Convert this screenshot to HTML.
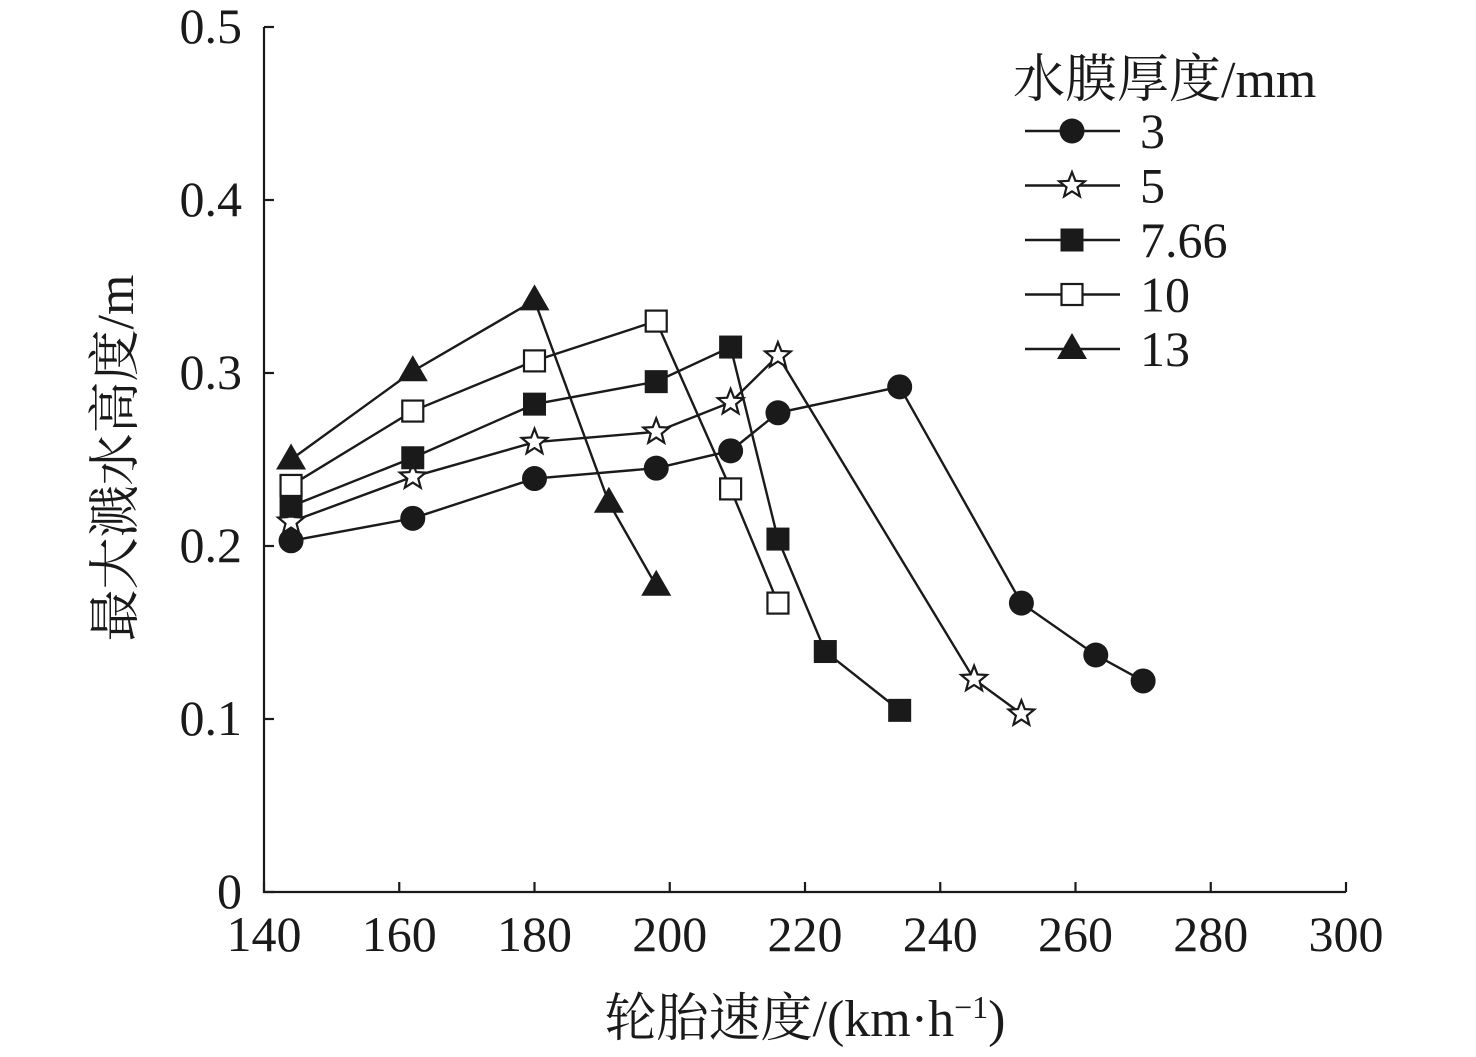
<!DOCTYPE html>
<html><head><meta charset="utf-8"><style>
html,body{margin:0;padding:0;background:#fff;}
svg text{font-family:"Liberation Serif","Noto Serif CJK SC",serif;fill:#1a1a1a;}
</style></head><body>
<svg id="c" width="1476" height="1052" xmlns="http://www.w3.org/2000/svg"></svg>
<script>
const xTicks=[140,160,180,200,220,240,260,280,300];
const yTicks=[0,0.1,0.2,0.3,0.4,0.5];
const yTickLabels=["0","0.1","0.2","0.3","0.4","0.5"];
const seriesNames=["3","5","7.66","10","13"];
const markers=["circle","star","square","opensquare","triangle"];
const x3=[144,162,180,198,209,216,234,252,263,270];
const y3=[0.203,0.216,0.239,0.245,0.255,0.277,0.292,0.167,0.137,0.122];
const x5=[144,162,180,198,209,216,245,252];
const y5=[0.214,0.240,0.260,0.266,0.283,0.310,0.123,0.103];
const x766=[144,162,180,198,209,216,223,234];
const y766=[0.223,0.251,0.282,0.295,0.315,0.204,0.139,0.105];
const x10=[144,162,180,198,209,216];
const y10=[0.235,0.278,0.307,0.330,0.233,0.167];
const x13=[144,162,180,191,198];
const y13=[0.250,0.301,0.342,0.225,0.177];

const svg=document.getElementById('c');
const NS="http://www.w3.org/2000/svg";
const X0=264,X1=1346,Y0=892,Y1=27;
const sx=v=>X0+(v-140)/160*(X1-X0);
const sy=v=>Y0-v/0.5*(Y0-Y1);
function el(t,a,p){const e=document.createElementNS(NS,t);for(const k in a)e.setAttribute(k,a[k]);(p||svg).appendChild(e);return e;}

let ax=el('path',{d:`M${X0},${Y1}V${Y0}H${X1}`,fill:'none',stroke:'#1a1a1a','stroke-width':2.2});


xTicks.forEach(v=>{
  const t=el('line',{x1:sx(v),x2:sx(v),y1:Y0,y2:Y0-10,stroke:'#1a1a1a','stroke-width':2.2});
  
  
  const l=el('text',{x:sx(v),y:951,'text-anchor':'middle','font-size':50});l.textContent=v;
  
  
});
yTicks.forEach((v,i)=>{
  const t=el('line',{x1:X0,x2:X0+10,y1:sy(v),y2:sy(v),stroke:'#1a1a1a','stroke-width':2.2});
  
  
  const l=el('text',{x:242,y:sy(v)+16,'text-anchor':'end','font-size':50});l.textContent=yTickLabels[i];
  
  
});
let xt=el('text',{x:805,y:1036,'text-anchor':'middle','font-size':52});
xt.innerHTML='轮胎速度/(km·h<tspan dy="-18" font-size="32">−1</tspan><tspan dy="18">)</tspan>';


let yt=el('text',{x:0,y:0,'text-anchor':'middle','font-size':52,transform:'translate(133,458) rotate(-90)'});
yt.textContent='最大溅水高度/m';



function marker(type,cx,cy,g){
  if(type==='circle')el('circle',{cx,cy,r:12.5,fill:'#1a1a1a'},g);
  else if(type==='square')el('rect',{x:cx-11.5,y:cy-11.5,width:23,height:23,fill:'#1a1a1a'},g);
  else if(type==='opensquare')el('rect',{x:cx-10.5,y:cy-10.5,width:21,height:21,fill:'#fff',stroke:'#1a1a1a','stroke-width':2.2},g);
  else if(type==='triangle')el('path',{d:`M${cx},${cy-16}L${cx+15},${cy+10}L${cx-15},${cy+10}Z`,fill:'#1a1a1a'},g);
  else{let p='';for(let i=0;i<10;i++){const r=i%2?5.8:13.5,a=-Math.PI/2+i*Math.PI/5;p+=(i?'L':'M')+(cx+r*Math.cos(a)).toFixed(1)+','+(cy+r*Math.sin(a)).toFixed(1);}
    el('path',{d:p+'Z',fill:'#fff',stroke:'#1a1a1a','stroke-width':2.2},g);}
}
const xs=[x3,x5,x766,x10,x13],ys=[y3,y5,y766,y10,y13];
xs.forEach((xa,s)=>{
  const g=el('g',{});
  
  
  el('polyline',{points:xa.map((x,i)=>sx(x)+','+sy(ys[s][i])).join(' '),fill:'none',stroke:'#1a1a1a','stroke-width':2.4},g);
  xa.forEach((x,i)=>marker(markers[s],sx(x),sy(ys[s][i]),g));
});
let lt=el('text',{x:1013,y:97,'font-size':52});lt.textContent='水膜厚度/mm';


seriesNames.forEach((n,i)=>{
  const y=131+i*54.5;
  const g=el('g',{});
  
  
  el('line',{x1:1025,x2:1120,y1:y,y2:y,stroke:'#1a1a1a','stroke-width':2.4},g);
  marker(markers[i],1072,y,g);
  const t=el('text',{x:1140,y:y+17,'font-size':50},g);t.textContent=n;
});
</script>
</body></html>
